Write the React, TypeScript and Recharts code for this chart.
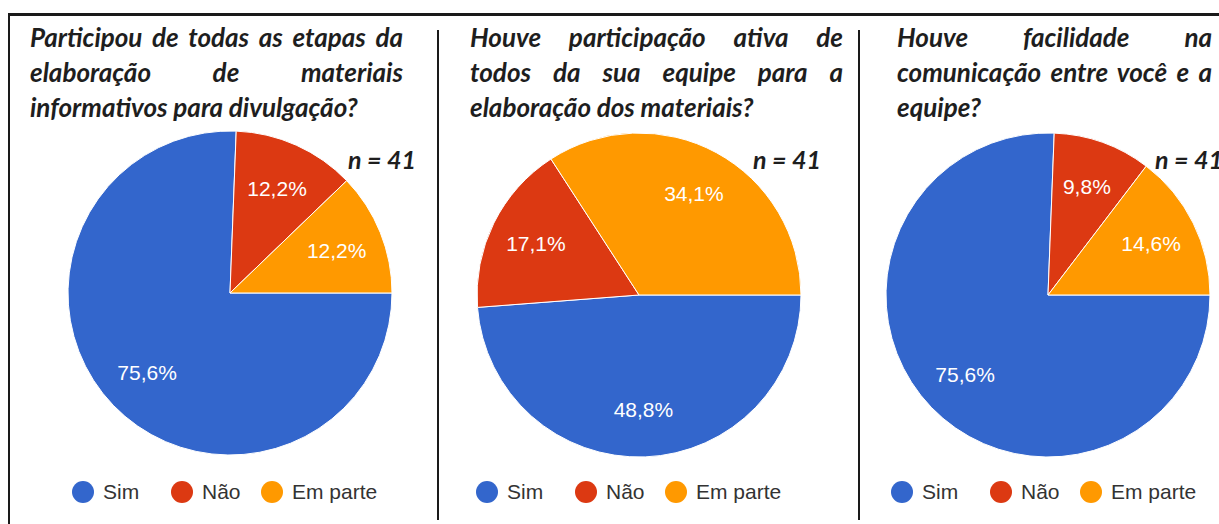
import { PieChart, Pie, Cell, Legend } from 'recharts';

const categories = ['Sim', 'Não', 'Em parte'];
const COLORS = ['#3366cc', '#dc3912', '#ff9900'];

// respostas (n = 41)
const participouValues = [31, 5, 5];
const participacaoAtivaValues = [20, 7, 14];
const facilidadeValues = [31, 4, 6];

const participouTitle = ['Participou de todas as etapas da', 'elaboração de materiais', 'informativos para divulgação?'];
const participacaoAtivaTitle = ['Houve participação ativa de', 'todos da sua equipe para a', 'elaboração dos materiais?'];
const facilidadeTitle = ['Houve facilidade na', 'comunicação entre você e a', 'equipe?'];

const sampleLabel = 'n = 41';

const RADIAN = Math.PI / 180;
const TITLE_FONT = 'Lato, "Open Sans", sans-serif';
const LABEL_FONT = '"Liberation Sans", Arial, sans-serif';

const renderLabel = (props: any) => {
    const { cx, cy, midAngle, outerRadius, percent } = props;
    const r = outerRadius * 0.71;
    const x = cx + r * Math.cos(-midAngle * RADIAN);
    const y = cy + r * Math.sin(-midAngle * RADIAN);
    const txt = (percent * 100).toFixed(1).replace('.', ',') + '%';
    return (
        <text x={x} y={y} fill="#fff" textAnchor="middle" dominantBaseline="central" fontSize={21} fontFamily={LABEL_FONT}>
            {txt}
        </text>
    );
};

const ITEM_WIDTHS = [99, 90, undefined];

const renderLegend = () => (
    <div style={{ display: 'flex', alignItems: 'center', fontFamily: LABEL_FONT, fontSize: 21, color: '#333' }}>
        {categories.map((c, i) => (
            <div key={c} style={{ display: 'flex', alignItems: 'center', width: ITEM_WIDTHS[i] }}>
                <span style={{ width: 22, height: 22, borderRadius: 11, background: COLORS[i], display: 'inline-block', marginRight: 9 }} />
                <span>{c}</span>
            </div>
        ))}
    </div>
);

interface PanelProps {
    values: number[];
    title: string[];
    left: number;
    width: number;
    cx: number;
    cy: number;
    titleLeft: number;
    titleWidth: number;
    nLeft: number;
    legendLeft: number;
}

function Panel({ values, title, left, width, cx, cy, titleLeft, titleWidth, nLeft, legendLeft }: PanelProps) {
    const data = categories.map((name, i) => ({ name, value: values[i] }));
    return (
        <>
            <div style={{ position: 'absolute', left, top: 0 }}>
                <PieChart width={width} height={524} margin={{ top: 0, right: 0, bottom: 0, left: 0 }}>
                    <Pie
                        data={data}
                        dataKey="value"
                        nameKey="name"
                        cx={cx}
                        cy={cy}
                        outerRadius={162}
                        startAngle={0}
                        endAngle={-360}
                        stroke="#fff"
                        strokeWidth={1}
                        labelLine={false}
                        label={renderLabel}
                        isAnimationActive={false}
                    >
                        {data.map((entry, index) => (
                            <Cell key={`cell-${index}`} fill={COLORS[index % COLORS.length]} />
                        ))}
                    </Pie>
                    <Legend content={renderLegend} wrapperStyle={{ left: legendLeft, top: 480, bottom: 'auto', width: 'auto' }} />
                </PieChart>
            </div>
            <div style={{ position: 'absolute', left: titleLeft, top: 20, width: titleWidth, fontFamily: TITLE_FONT, fontWeight: 700, fontStyle: 'italic', fontSize: 26, lineHeight: '35px', color: '#1e1e1e' }}>
                {title.map((line, i) => (
                    <div key={i} style={{ textAlign: i < title.length - 1 ? 'justify' : 'left', textAlignLast: i < title.length - 1 ? 'justify' : 'left', whiteSpace: 'nowrap' }}>
                        {line}
                    </div>
                ))}
            </div>
            <div style={{ position: 'absolute', left: nLeft, top: 144, fontFamily: TITLE_FONT, fontWeight: 700, fontStyle: 'italic', fontSize: 25, lineHeight: '30px', color: '#1e1e1e', whiteSpace: 'nowrap' }}>
                {sampleLabel}
            </div>
        </>
    );
}

export default function App() {
    return (
        <div style={{ position: 'absolute', left: 0, top: 0, width: 1219, height: 524, overflow: 'hidden', background: '#fff' }}>
            <Panel values={participouValues} title={participouTitle} left={10} width={428} cx={220} cy={293} titleLeft={30} titleWidth={373} nLeft={348} legendLeft={62} />
            <Panel values={participacaoAtivaValues} title={participacaoAtivaTitle} left={440} width={419} cx={199} cy={295} titleLeft={470} titleWidth={373} nLeft={753} legendLeft={36} />
            <Panel values={facilidadeValues} title={facilidadeTitle} left={861} width={358} cx={187} cy={295} titleLeft={897} titleWidth={315} nLeft={1155} legendLeft={30} />
            {/* moldura */}
            <div style={{ position: 'absolute', left: 8, top: 13, width: 1211, height: 3, background: '#1a1a1a' }} />
            <div style={{ position: 'absolute', left: 8, top: 13, width: 2, height: 511, background: '#1a1a1a' }} />
            <div style={{ position: 'absolute', left: 437, top: 30, width: 2, height: 490, background: '#1a1a1a' }} />
            <div style={{ position: 'absolute', left: 858, top: 30, width: 2, height: 490, background: '#1a1a1a' }} />
        </div>
    );
}
